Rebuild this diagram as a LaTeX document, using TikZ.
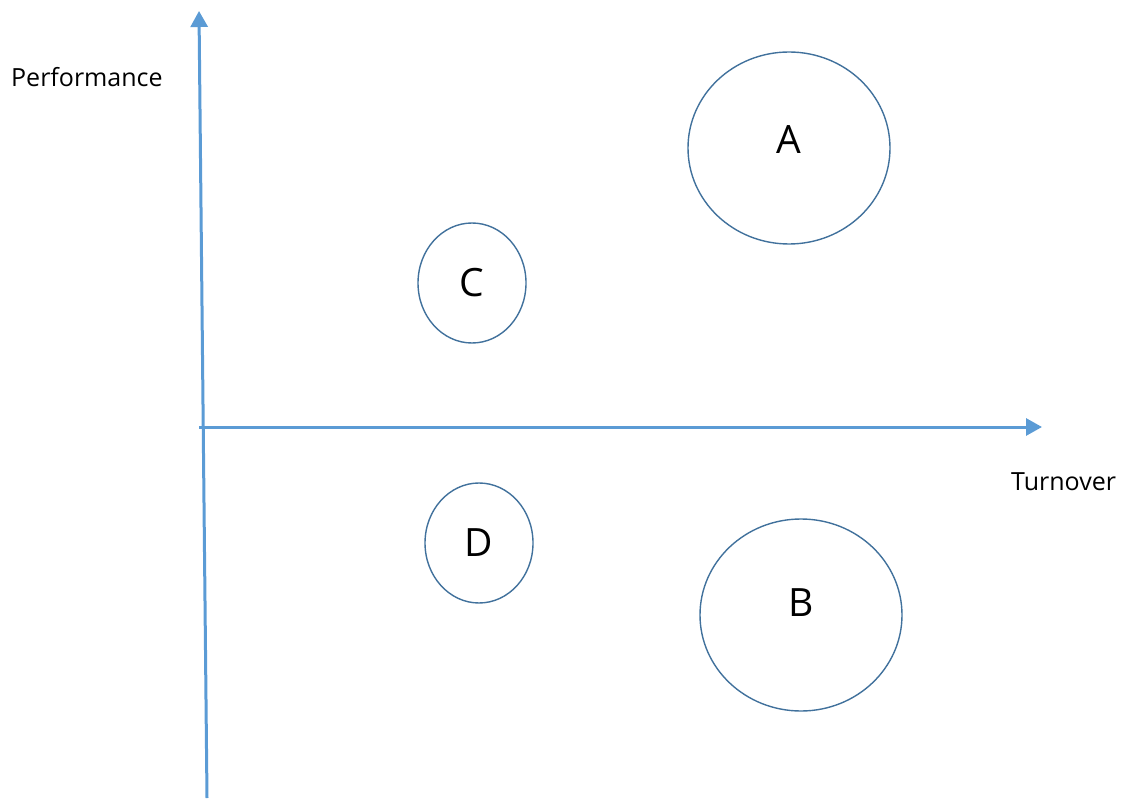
\documentclass[tikz,border=0pt]{standalone}
\usepackage{fontspec}
\setmainfont{Open Sans}
\usetikzlibrary{arrows.meta}
\definecolor{axisblue}{HTML}{5B9BD5}
\definecolor{ringblue}{HTML}{41719C}
\tikzset{
  axis/.style={draw=axisblue, line width=3pt, -{Triangle[length=16pt,width=17pt]}},
  ring/.style={draw=ringblue, line width=1.4pt},
  letter/.style={font=\fontsize{39}{39}\selectfont, text=black, inner sep=0pt},
  caption/.style={font=\fontsize{25}{25}\selectfont, text=black, inner sep=0pt, anchor=west}
}
\begin{document}
\begin{tikzpicture}[x=1pt,y=-1pt]
\useasboundingbox (0,0) rectangle (1124,799);
% axes
\coordinate (ybot) at (207,798);
\coordinate (ytop) at (199,11);
\coordinate (xleft) at (199,427);
\coordinate (xright) at (1042,427);
\draw[axis] (ybot) -- (ytop);
\draw[axis] (xleft) -- (xright);
% axis captions
\node[caption] (perf) at (11,77) {Performance};
\node[caption] (turn) at (1011,482) {Turnover};
% groups
\draw[ring] (789,148) ellipse [x radius=101, y radius=96];
\draw[ring] (801,615) ellipse [x radius=101, y radius=96];
\draw[ring] (472,283) ellipse [x radius=54, y radius=60];
\draw[ring] (479,543) ellipse [x radius=54, y radius=60];
\node[letter] (A) at (789,140) {A};
\node[letter] (B) at (801,603) {B};
\node[letter] (C) at (472,283) {C};
\node[letter] (D) at (479,543) {D};
\end{tikzpicture}
\end{document}
